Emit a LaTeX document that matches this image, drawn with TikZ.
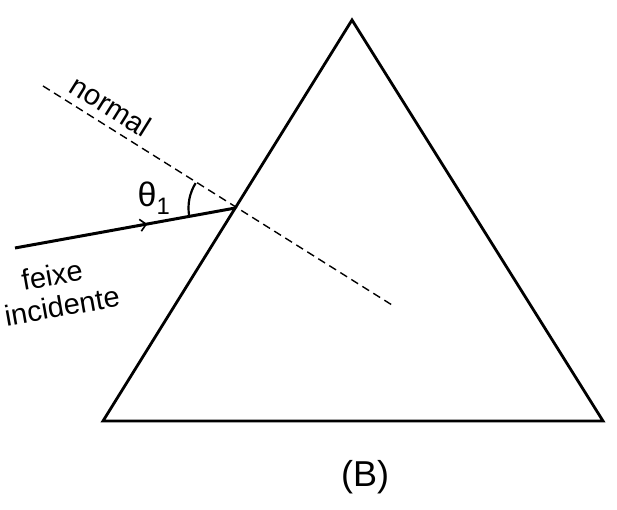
\documentclass[tikz,border=0pt]{standalone}
\usepackage{fontspec}
\setmainfont{Liberation Sans}
\usetikzlibrary{arrows.meta,decorations.markings}
\begin{document}
\begin{tikzpicture}[x=1pt,y=1pt]

      \tikzset{prism/.style={line width=2.8pt, line join=miter},
               beam/.style={line width=3pt, postaction={decorate},
                 decoration={markings, mark=at position 0.6 with {\arrow{Straight Barb[length=6pt,width=12pt,line width=1.6pt]}}}},
               normalline/.style={dash pattern=on 8pt off 5pt, line width=1.4pt},
               lbl/.style={font=\fontsize{29}{34}\selectfont, inner sep=0pt}}
      \useasboundingbox (0,0) rectangle (617,510);
%% Vertices
      \coordinate (top) at (352,490);
      \coordinate (bl) at (103,89);
      \coordinate (br) at (603,89);
      \coordinate (hit) at (235.5,302);
      \coordinate (src) at (15,262);
      \coordinate (n1) at (43,424);
      \coordinate (n2) at (392,205);
%Prism and rays
      \draw[prism] (bl) -- (top) -- (br) -- cycle;
      \draw[normalline] (n1) -- (n2);
      \draw[beam] (src) -- (hit);
      \draw[line width=2.2pt] (hit) ++(148:47) arc[start angle=148, end angle=190, radius=47];
%Labels
      \node[lbl, rotate=-32] (normal) at (111,404) {normal};
      \node[lbl, font=\fontsize{34}{38}\selectfont] (theta) at (154,312) {θ\textsubscript{1}};
      \node[lbl, rotate=10] (feixe) at (52,235) {feixe};
      \node[lbl, rotate=10] (incid) at (62,204) {incidente};
      \node[lbl, font=\fontsize{36}{40}\selectfont] (B) at (365,33) {(B)};

\end{tikzpicture}
\end{document}
